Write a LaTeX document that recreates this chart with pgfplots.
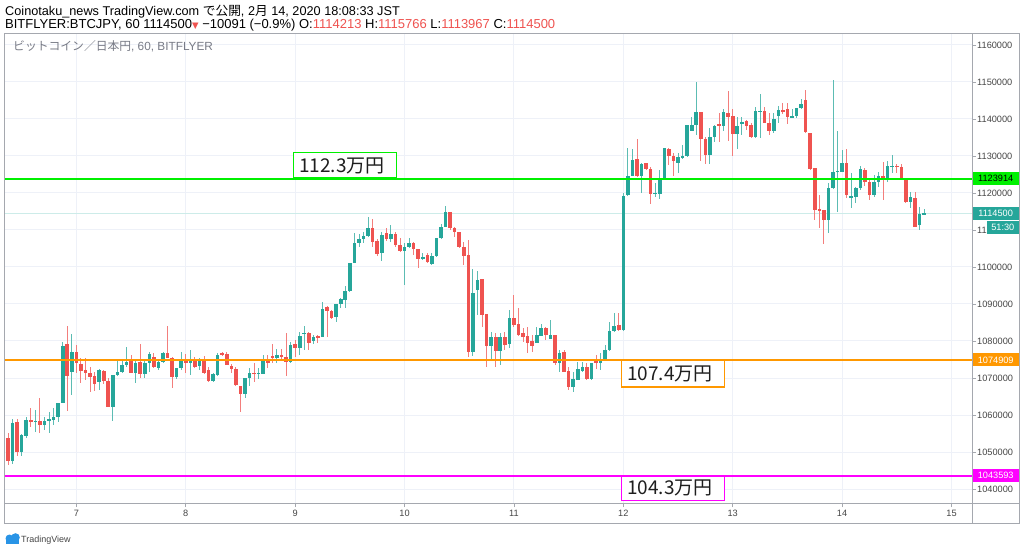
\documentclass[border=0pt]{standalone}
\usepackage{pgfplots}
\pgfplotsset{compat=1.18}
\usepackage{pgfplotstable}
\usepackage{fontspec}
\setmainfont{Liberation Sans}
\newfontfamily\jp{Noto Sans CJK JP}
\newfontfamily\dv{DejaVu Sans}
\definecolor{tvup}{RGB}{38,166,154}
\definecolor{tvdn}{RGB}{239,83,80}
\definecolor{gridc}{RGB}{238,241,248}
\definecolor{framec}{RGB}{165,168,175}
\definecolor{labc}{RGB}{70,70,70}
\definecolor{lvgreen}{RGB}{0,240,0}
\definecolor{lvorange}{RGB}{255,152,0}
\definecolor{lvmag}{RGB}{255,0,255}
\definecolor{titlec}{RGB}{120,123,134}
\definecolor{hdrred}{RGB}{239,83,80}
\definecolor{curline}{RGB}{205,236,233}
\definecolor{logoblue}{RGB}{41,148,230}
\definecolor{annc}{RGB}{30,30,30}
\newcommand\tickfont{\fontsize{9.2}{10}\selectfont}

\pgfplotstableread{
i o h l c
0 1053700 1055050 1046490 1047660
1 1047660 1058830 1046760 1057930
2 1058110 1058830 1049010 1050090
3 1049910 1054870 1049010 1054600
4 1054330 1059550 1053700 1058650
5 1058650 1061980 1056850 1058020
6 1058110 1061350 1055500 1058470
7 1058380 1064690 1055230 1057390
8 1057210 1059370 1055950 1058470
9 1058470 1060900 1055050 1058830
10 1058560 1061980 1057300 1059370
11 1059370 1063150 1058200 1063150
12 1063330 1079820 1063330 1078740
13 1079100 1084060 1061170 1070630
14 1071710 1081800 1065410 1076940
15 1076940 1078920 1071260 1073970
16 1073790 1075320 1068740 1071980
17 1072160 1075500 1069460 1071440
18 1071440 1073070 1066310 1070360
19 1070540 1071710 1066580 1068380
20 1069010 1072340 1066760 1072160
21 1071890 1072160 1068380 1069100
22 1069190 1070090 1062250 1062250
23 1062250 1070810 1058380 1070810
24 1070720 1074870 1070540 1071620
25 1071530 1074870 1071260 1073520
26 1073520 1078470 1073070 1074240
27 1074690 1076220 1071270 1071450
28 1071450 1074870 1068740 1074150
29 1074420 1079100 1069910 1070980
30 1071090 1074870 1069910 1073970
31 1073970 1076940 1071540 1076490
32 1075770 1076670 1072620 1072890
33 1072620 1075050 1072170 1074240
34 1074240 1076940 1073970 1076670
35 1076670 1084060 1075320 1075500
36 1075500 1075770 1067390 1070180
37 1070180 1072800 1069730 1072800
38 1072620 1076940 1072170 1074870
39 1074690 1076400 1071450 1074150
40 1074150 1077570 1070820 1074690
41 1074870 1075770 1072620 1073070
42 1073250 1075320 1072170 1074600
43 1074690 1075950 1071090 1071450
44 1072170 1073070 1069010 1069190
45 1069280 1071270 1069010 1070980
46 1070810 1076670 1070550 1076220
47 1076670 1076940 1075950 1076220
48 1076490 1076940 1073520 1073520
49 1073340 1073790 1071450 1072440
50 1072440 1073070 1067930 1068110
51 1067930 1067930 1060910 1065680
52 1065680 1070090 1064500 1070090
53 1070100 1072610 1067840 1071440
54 1071440 1073970 1069010 1071080
55 1071080 1072610 1069640 1071440
56 1070990 1076220 1070990 1074870
57 1074870 1076220 1072610 1073970
58 1075770 1079100 1073970 1075590
59 1075500 1077750 1073970 1076220
60 1076220 1077750 1074600 1075770
61 1075770 1082070 1070630 1074420
62 1074420 1079820 1073970 1078920
63 1079190 1080270 1075770 1078020
64 1078020 1082520 1076220 1081350
65 1081890 1084060 1077570 1082250
66 1082250 1082520 1077570 1079370
67 1080090 1081620 1079190 1081170
68 1081350 1081620 1079370 1080990
69 1081170 1090630 1080990 1088560
70 1089100 1089460 1081170 1088200
71 1088110 1088380 1085950 1086130
72 1086580 1090000 1085230 1090000
73 1089910 1091530 1088830 1091260
74 1091080 1094870 1088830 1093600
75 1093600 1101170 1093330 1101170
76 1100990 1109280 1100990 1106400
77 1106400 1108830 1105500 1107480
78 1107480 1109370 1106580 1108380
79 1108380 1113600 1108020 1110450
80 1110450 1112970 1105500 1106850
81 1107030 1107480 1102980 1103430
82 1103700 1109370 1101620 1108650
83 1109100 1110450 1107120 1107480
84 1107570 1111350 1106850 1108920
85 1108920 1109370 1105500 1105950
86 1105950 1107930 1104150 1104420
87 1104420 1106580 1095140 1105320
88 1105500 1107750 1105230 1106400
89 1106400 1106670 1103240 1104780
90 1104780 1104870 1099820 1102170
91 1102340 1103880 1101890 1102610
92 1103250 1103880 1100990 1101260
93 1100810 1103700 1100540 1103060
94 1102970 1107750 1102790 1107750
95 1107750 1111530 1107480 1110900
96 1110900 1116490 1110720 1114960
97 1114960 1114960 1110000 1110450
98 1110450 1110900 1108200 1109370
99 1109370 1109370 1105050 1105500
100 1105500 1106850 1100540 1102980
101 1103250 1107300 1075590 1077120
102 1077120 1099370 1075950 1093070
103 1093790 1098920 1087030 1096490
104 1096670 1096670 1083880 1087030
105 1087210 1087210 1073070 1078740
106 1078740 1082530 1074870 1081170
107 1080990 1082080 1073070 1077300
108 1077390 1082080 1073520 1080990
109 1080990 1082530 1077570 1078920
110 1079190 1088380 1078020 1086310
111 1086310 1092440 1083880 1084330
112 1084600 1088830 1081450 1081620
113 1082260 1083430 1079820 1081170
114 1081360 1083880 1076850 1079550
115 1080090 1081620 1077120 1078740
116 1079370 1083700 1079370 1081620
117 1081450 1084510 1081360 1083610
118 1083610 1083880 1080270 1081620
119 1080450 1085680 1080450 1081620
120 1081620 1081620 1073520 1073970
121 1073970 1077570 1071720 1076670
122 1077120 1077570 1071720 1071720
123 1071990 1072890 1066760 1067480
124 1067480 1071720 1066310 1069640
125 1069460 1074420 1069460 1072350
126 1071990 1074420 1071720 1072890
127 1072890 1073970 1069460 1069730
128 1069640 1074150 1069460 1073970
129 1074690 1076220 1072350 1074150
130 1074150 1076670 1072170 1074870
131 1075050 1078920 1074870 1077570
132 1077570 1085230 1077390 1082800
133 1082700 1087480 1082520 1084140
134 1084320 1087480 1082790 1082970
135 1082970 1119910 1082790 1119190
136 1119460 1132070 1119190 1124590
137 1124590 1131890 1124590 1128920
138 1129100 1134500 1124230 1124590
139 1124590 1128190 1120090 1127830
140 1128190 1128190 1126210 1126390
141 1126390 1127110 1117020 1119730
142 1119730 1122610 1119010 1120090
143 1119730 1126210 1118280 1123510
144 1123690 1132070 1123510 1132070
145 1131890 1132070 1127560 1130000
146 1130000 1130720 1124590 1128650
147 1128020 1130720 1125490 1129640
148 1129640 1132970 1129100 1130000
149 1130000 1138370 1129820 1138370
150 1136840 1140630 1136840 1138370
151 1138370 1149910 1135670 1141980
152 1141980 1141980 1128740 1134500
153 1134500 1135220 1127830 1130270
154 1130270 1137470 1127830 1135220
155 1135220 1138380 1133870 1138110
156 1138650 1141530 1133870 1138110
157 1138110 1142610 1136840 1141980
158 1141710 1147560 1134140 1140630
159 1140810 1142610 1130000 1135940
160 1135940 1140630 1131800 1138110
161 1138830 1140630 1135670 1139280
162 1139460 1139730 1137020 1138200
163 1138380 1138830 1134950 1135040
164 1135040 1143330 1134950 1142160
165 1141980 1146660 1134770 1142160
166 1142160 1143330 1139010 1139010
167 1138830 1141530 1135670 1136840
168 1136840 1141530 1136120 1139910
169 1140810 1143510 1138830 1142430
170 1142430 1144410 1141350 1142160
171 1142610 1144410 1138560 1140630
172 1140450 1142610 1140180 1140810
173 1140810 1143060 1140180 1142880
174 1142880 1145310 1142610 1144050
175 1145130 1147830 1136120 1136570
176 1136300 1136300 1126210 1126390
177 1126660 1126660 1112700 1115400
178 1115580 1119460 1110450 1115130
179 1115400 1115400 1106210 1112700
180 1112700 1122610 1109100 1121260
181 1121260 1150540 1120990 1125760
182 1125760 1136840 1114950 1126030
183 1125760 1131620 1125760 1128200
184 1128020 1131800 1118560 1119460
185 1118820 1125310 1115850 1119190
186 1119010 1121710 1117200 1121260
187 1121260 1127290 1120810 1126390
188 1126210 1126660 1121890 1123060
189 1123060 1123510 1118100 1119450
190 1119450 1124860 1118820 1123060
191 1123060 1125760 1121710 1124590
192 1124590 1128460 1118100 1123690
193 1123690 1128730 1123060 1127290
194 1127110 1130270 1125310 1127290
195 1127290 1127830 1125310 1127110
196 1127110 1127830 1123510 1123690
197 1123690 1123690 1117200 1117650
198 1117650 1120360 1115850 1118820
199 1118550 1120360 1110720 1110720
200 1111350 1116300 1110000 1114320
201 1114213 1115766 1113967 1114500
}\candles

\begin{document}
\begin{tikzpicture}[x=1pt,y=1pt]
\path[use as bounding box] (0,0) rectangle (1024,552);
\fill[white] (0,0) rectangle (1024,552);
\begin{axis}[
  at={(5pt,49pt)}, anchor=south west,
  scale only axis, width=967pt, height=469pt,
  xmin=-0.66, xmax=211.5, ymin=1036216, ymax=1162973,
  scaled y ticks=false, scaled x ticks=false,
  axis line style={draw=framec, line width=1pt},
  xtick={15,39,63,87,111,135,159,183,207},
  xticklabels={7,8,9,10,11,12,13,14,15},
  ytick={1040000,1050000,1060000,1070000,1080000,1090000,1100000,1110000,1120000,1130000,1140000,1150000,1160000},
  yticklabels={1040000,1050000,1060000,1070000,1080000,1090000,1100000,11,1120000,1130000,1140000,1150000,1160000},
  xtick pos=bottom, ytick pos=right, yticklabel pos=right,
  tick align=outside, major tick length=4pt,
  tick style={draw=framec, line width=0.8pt},
  grid=major, major grid style={draw=gridc, line width=1pt},
  ticklabel style={font=\tickfont, text=labc},
  yticklabel style={anchor=west, inner sep=0pt, xshift=1pt},
  xticklabel style={inner sep=0pt, yshift=-3pt},
  unbounded coords=discard,
]
% current price line
\addplot[curline, line width=1pt, forget plot] coordinates {(-1,1114500) (212,1114500)};
% up candles
\addplot[draw=none, mark=none, forget plot,
  restrict expr to domain={\thisrow{c}-\thisrow{o}}{0:1000000},
  error bars/.cd, y dir=both, y explicit, error mark=none,
  error bar style={draw=tvup!75, line width=0.9pt}]
  table[x=i, y expr=(\thisrow{h}+\thisrow{l})/2, y error expr=(\thisrow{h}-\thisrow{l})/2] {\candles};
\addplot[draw=none, mark=none, forget plot,
  restrict expr to domain={\thisrow{c}-\thisrow{o}}{0:1000000},
  error bars/.cd, y dir=both, y explicit, error mark=none,
  error bar style={draw=tvup, line width=3.6pt}]
  table[x=i, y expr=(\thisrow{o}+\thisrow{c})/2, y error expr={max(abs(\thisrow{c}-\thisrow{o})/2,180)}] {\candles};
% down candles
\addplot[draw=none, mark=none, forget plot,
  restrict expr to domain={\thisrow{o}-\thisrow{c}}{1:1000000},
  error bars/.cd, y dir=both, y explicit, error mark=none,
  error bar style={draw=tvdn!75, line width=0.9pt}]
  table[x=i, y expr=(\thisrow{h}+\thisrow{l})/2, y error expr=(\thisrow{h}-\thisrow{l})/2] {\candles};
\addplot[draw=none, mark=none, forget plot,
  restrict expr to domain={\thisrow{o}-\thisrow{c}}{1:1000000},
  error bars/.cd, y dir=both, y explicit, error mark=none,
  error bar style={draw=tvdn, line width=3.6pt}]
  table[x=i, y expr=(\thisrow{o}+\thisrow{c})/2, y error expr={max(abs(\thisrow{c}-\thisrow{o})/2,180)}] {\candles};
% level lines
\addplot[lvgreen, line width=2pt, forget plot] coordinates {(-1,1123914) (212,1123914)};
\addplot[lvorange, line width=2pt, forget plot] coordinates {(-1,1074909) (212,1074909)};
\addplot[lvmag, line width=2pt, forget plot] coordinates {(-1,1043593) (212,1043593)};
\end{axis}

% outer frame
\draw[framec, line width=1pt] (4.5,29) rectangle (1019.5,518.5);
\draw[framec, line width=1pt] (4.5,49) -- (1019.5,49);
\draw[framec, line width=1pt] (972,29) -- (972,518.5);

% right price labels
\fill[lvgreen] (972.5,366.9) rectangle (1019,379.9);
\node[font=\tickfont, text=black] at (995.7,373.4) {1123914};
\fill[tvup] (972.5,332.2) rectangle (1019,345.2);
\node[font=\tickfont, text=white] at (995.7,338.7) {1114500};
\fill[tvup] (986.7,317.8) rectangle (1019,330.6);
\node[font=\tickfont, text=white] at (1002.8,324.2) {51:30};
\fill[lvorange] (972.5,185.6) rectangle (1019,198.6);
\node[font=\tickfont, text=white] at (995.7,192.1) {1074909};
\fill[lvmag] (972.5,69.8) rectangle (1019,82.8);
\node[font=\tickfont, text=white] at (995.7,76.3) {1043593};

% annotation boxes
\filldraw[draw=lvgreen, fill=white, line width=1.2pt] (293.5,374) rectangle (396.5,399.3);
\node[anchor=west, inner sep=0pt, font=\jp\fontsize{19}{20}\selectfont, text=annc] at (299,386.3) {112.3万円};
\filldraw[draw=lvorange, fill=white, line width=1.2pt] (621.5,165) rectangle (724.5,192);
\node[anchor=west, inner sep=0pt, font=\jp\fontsize{19}{20}\selectfont, text=annc] at (627,178.3) {107.4万円};
\filldraw[draw=lvmag, fill=white, line width=1.2pt] (621.5,51.5) rectangle (724.5,76);
\node[anchor=west, inner sep=0pt, font=\jp\fontsize{19}{20}\selectfont, text=annc] at (627,63.8) {104.3万円};

% headers
\node[anchor=base west, inner sep=0pt, font=\fontsize{12.7}{14}\selectfont, text=black] at (5,536)
  {Coinotaku\_news TradingView.com {\jp で公開}, 2{\jp 月} 14, 2020 18:08:33 JST};
\node[anchor=base west, inner sep=0pt, font=\fontsize{13}{14}\selectfont, text=black] at (5,523.5)
  {BITFLYER:BTCJPY, 60 1114500{\color{hdrred}\dv\fontsize{8.5}{8}\selectfont ▼} −10091 (−0.9\%) O:{\color{hdrred}1114213} H:{\color{hdrred}1115766} L:{\color{hdrred}1113967} C:{\color{hdrred}1114500}};
\node[anchor=base west, inner sep=0pt, font=\fontsize{11.8}{13}\selectfont, text=titlec] at (13,501)
  {{\jp ビットコイン／日本円}, 60, BITFLYER};

% TradingView logo
\fill[logoblue] (6,8) rectangle (19,12);
\fill[logoblue] (9.5,13.5) circle (4);
\fill[logoblue] (15.5,14.5) circle (4.3);
\node[anchor=base west, inner sep=0pt, font=\fontsize{9}{10}\selectfont, text=labc] at (21,10) {TradingView};
\end{tikzpicture}
\end{document}
